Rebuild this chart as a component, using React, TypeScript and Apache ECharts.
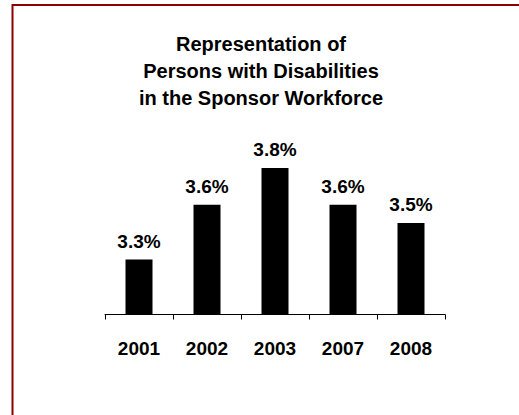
import React, { useEffect, useRef } from "react";
import * as echarts from "echarts";

const titleLines = ["Representation of", "Persons with Disabilities", "in the Sponsor Workforce"];
const years = ["2001", "2002", "2003", "2007", "2008"];
const shares = [3.3, 3.6, 3.8, 3.6, 3.5];
const axisMin = 3;
const axisMax = 4;

const FONT = '"Liberation Sans", Arial, Helvetica, sans-serif';

export default function App() {
  const ref = useRef<HTMLDivElement>(null);
  useEffect(() => {
    const chart = echarts.init(ref.current!, null, { renderer: "svg" });
    chart.setOption({
      animation: false,
      backgroundColor: "#ffffff",
      grid: { left: 105, right: 74, top: 131.5, bottom: 100.5, containLabel: false },
      xAxis: {
        type: "category",
        data: years,
        boundaryGap: true,
        axisLine: { show: true, lineStyle: { color: "#000", width: 1 } },
        axisTick: { show: true, alignWithLabel: false, interval: 0, length: 5, lineStyle: { color: "#000", width: 1 } },
        axisLabel: { interval: 0, margin: 24, color: "#000", fontSize: 19, fontWeight: "bold", fontFamily: FONT },
        splitLine: { show: false },
      },
      yAxis: { type: "value", min: axisMin, max: axisMax, show: false, splitLine: { show: false } },
      series: [
        {
          type: "bar",
          data: shares,
          barWidth: 27,
          clip: true,
          itemStyle: { color: "#000" },
          label: {
            show: true,
            position: "top",
            distance: 9,
            color: "#000",
            fontSize: 19,
            fontWeight: "bold",
            fontFamily: FONT,
            formatter: (p: any) => `${Number(p.value).toFixed(1)}%`,
          },
        },
      ],
      graphic: [
        {
          type: "rect",
          silent: true,
          shape: { x: 12.5, y: 5, width: 600, height: 600 },
          style: { fill: "none", stroke: "#8b0000", lineWidth: 2 },
        },
        {
          type: "text",
          x: 261,
          y: 30.5,
          style: {
            text: titleLines.join("\n"),
            fontSize: 20,
            fontWeight: "bold",
            fontFamily: FONT,
            lineHeight: 27,
            align: "center",
            verticalAlign: "top",
            fill: "#000",
          },
        },
      ],
    });
    return () => chart.dispose();
  }, []);
  return <div ref={ref} style={{ position: "fixed", left: 0, top: 0, width: 519, height: 415 }} />;
}
